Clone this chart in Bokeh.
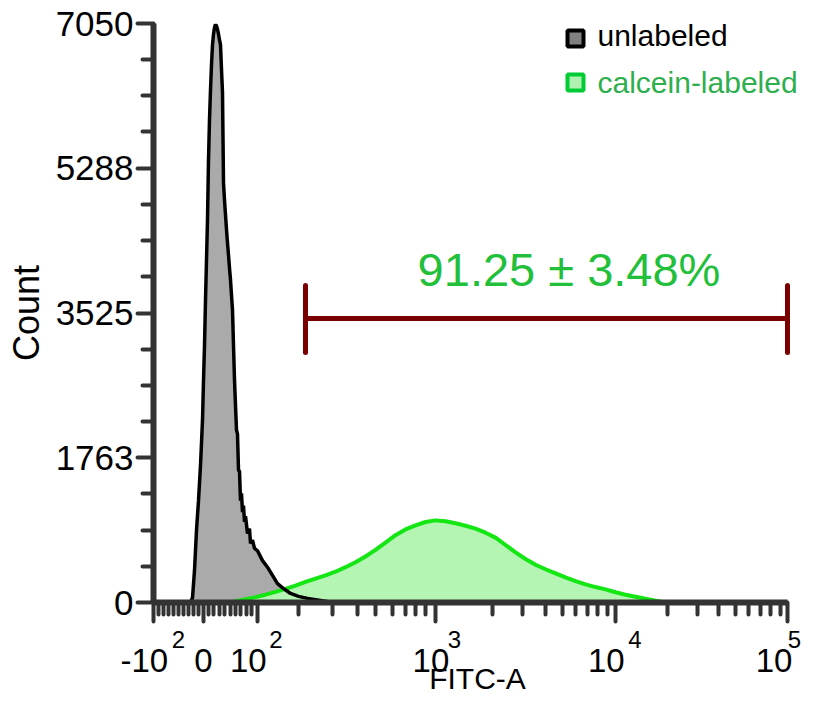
from bokeh.plotting import figure
from bokeh.models import FixedTicker, Label, Range1d, LinearAxis
from bokeh.embed import file_html
from bokeh.resources import INLINE

FONT = "Liberation Sans"

# ---- data (x in logicle display units: -10^2 -> 0, 10^5 -> 634) ----
x_major_ticks = [0, 50, 104, 282, 462, 634]
x_major_bases = ["-10", "0", "10", "10", "10", "10"]
x_major_exps = ["2", "", "2", "3", "4", "5"]
x_minor_ticks = [5, 10, 15, 20, 25, 30, 35, 40, 45,
                 55, 60, 66, 71, 77, 82, 87, 93, 98,
                 145, 179, 204, 222, 239, 252, 262, 272,
                 339, 369, 392, 409, 422, 434, 444, 454,
                 514, 544, 565, 582, 595, 607, 617, 627]

y_major_ticks = [0, 1763, 3525, 5288, 7050]
y_minor_ticks = [441, 881, 1322, 2204, 2644, 3084, 3966, 4406, 4847,
                 5729, 6169, 6609]

unl_x = [37, 39, 41, 43, 45, 47, 49, 50, 51, 52, 53, 54, 55, 56, 57, 58, 59,
         60, 61, 62, 63, 64, 65, 66, 67, 68, 69, 70, 71, 72, 73, 74, 75, 76,
         77, 78, 79, 80, 81, 82, 83, 84, 85, 86, 87, 88, 89, 90, 91, 92, 94,
         96, 97, 99, 101, 104, 109, 114, 119, 124, 130, 137, 145, 154, 167,
         180]
unl_count = [0, 60, 390, 880, 1240, 1670, 2220, 2700, 3130, 3680, 4170, 4660,
             5390, 5880, 6240, 6550, 6790, 6920, 7000, 7040, 7020, 6980, 6920,
             6850, 6790, 6490, 6210, 5110, 4900, 4720, 4540, 4380, 4230, 4070,
             3930, 3740, 3560, 3130, 2710, 2400, 2100, 2050, 1610, 1600, 1240,
             1330, 1100, 1180, 980, 1050, 840, 900, 720, 760, 660, 630, 510,
             430, 330, 230, 170, 110, 75, 50, 25, 0]

lab_x = [80, 92, 102, 112, 122, 132, 142, 152, 162, 172, 182, 192, 202, 212,
         222, 232, 242, 252, 262, 272, 282, 292, 302, 312, 322, 332, 342, 352,
         362, 372, 382, 392, 402, 412, 422, 432, 442, 452, 462, 472, 482, 492,
         502, 512]
lab_count = [10, 40, 65, 95, 130, 165, 205, 250, 290, 330, 375, 430, 490, 560,
             640, 730, 820, 890, 940, 980, 1000, 990, 965, 935, 900, 850, 790,
             700, 610, 530, 460, 405, 355, 305, 260, 220, 188, 160, 125, 95, 70,
             45, 22, 0]

gate_left, gate_right, gate_y = 152, 634, 3458
gate_cap_lo, gate_cap_hi = 3044, 3860
gate_text = "91.25 \u00b1 3.48%"

legend_labels = ["unlabeled", "calcein-labeled"]

AX = "#333333"

p = figure(frame_width=648, frame_height=579, output_backend="svg",
           toolbar_location=None,
           x_range=Range1d(0, 648), y_range=Range1d(0, 7050),
           min_border_left=153, min_border_right=0, min_border_top=23,
           min_border_bottom=99)
p.outline_line_color = None
p.grid.visible = False
p.background_fill_color = "white"
p.border_fill_color = "white"

# unlabeled (gray fill + black line)
p.varea(x=unl_x, y1=0, y2=unl_count, fill_color="#aaaaaa")
# calcein-labeled (light green fill + green line)
p.varea(x=lab_x, y1=0, y2=lab_count, fill_color="#b4f5b4")
p.line(lab_x, lab_count, line_color="#14e614", line_width=4)
p.line(unl_x, unl_count, line_color="black", line_width=3.5)

# gate bracket
p.segment(x0=[gate_left, gate_left, gate_right], y0=[gate_y, gate_cap_lo, gate_cap_lo],
          x1=[gate_right, gate_left, gate_right], y1=[gate_y, gate_cap_hi, gate_cap_hi],
          line_color="#7a0000", line_width=5, line_cap="round")
p.add_layout(Label(x=415.5, y=4055, text=gate_text,
                   text_align="center", text_baseline="middle",
                   text_font=FONT, text_font_size="47px", text_color="#22c03a"))

# legend
p.scatter(x=[422, 422], y=[6867, 6332], marker="square", size=16,
          fill_color=["#808080", "#b0f0b0"], line_color=["black", "#00cc33"],
          line_width=4)
for lbl, yy, col in zip(legend_labels, [6900, 6332], ["black", "#2eaf4e"]):
    p.add_layout(Label(x=444, y=yy, text=lbl, text_align="left",
                       text_baseline="middle", text_font=FONT,
                       text_font_size="30px", text_color=col))

# axes
for ax in (p.xaxis[0], p.yaxis[0]):
    ax.axis_line_width = 6
    ax.axis_line_color = AX
    ax.major_tick_line_width = 4
    ax.major_tick_line_color = AX
    ax.major_tick_line_cap = "round"
    ax.minor_tick_line_width = 4
    ax.minor_tick_line_color = AX
    ax.minor_tick_line_cap = "round"
    ax.major_tick_in = 0
    ax.minor_tick_in = 0
    ax.major_label_text_font = FONT
    ax.major_label_text_color = "black"
    ax.axis_label_text_font = FONT
    ax.axis_label_text_font_style = "normal"
    ax.axis_label_text_color = "black"

xa = p.xaxis[0]
xa.bounds = (0, 634)
xa.ticker = FixedTicker(ticks=x_major_ticks, minor_ticks=x_minor_ticks)
pads = [2, 0, 2, 1, 2, 1]
xa.major_label_overrides = {t: b + "\u00a0" * n for t, b, n in
                            zip(x_major_ticks, x_major_bases, pads)}
xa.major_tick_out = 19
xa.minor_tick_out = 12
xa.major_label_text_font_size = "33px"
xa.major_label_standoff = 20

# exponents of the x tick labels + axis title, on a second (line-less) axis
sup_offsets = [25, 0, 18.5, 19, 19.5, 7]
sup_pos = [t + o for t, o, e in zip(x_major_ticks, sup_offsets, x_major_exps) if e]
sup_txt = [e for e in x_major_exps if e]
xb = LinearAxis(ticker=FixedTicker(ticks=sup_pos, minor_ticks=[]),
                bounds=(0, 634),
                major_label_overrides={t: e for t, e in zip(sup_pos, sup_txt)},
                axis_line_color=None, major_tick_line_color=None,
                minor_tick_line_color=None, major_tick_in=0, major_tick_out=0,
                minor_tick_in=0, minor_tick_out=0,
                major_label_standoff=-51, major_label_text_font=FONT,
                major_label_text_font_size="24px", major_label_text_color="black",
                axis_label="FITC-A", axis_label_text_font=FONT,
                axis_label_text_font_size="30px", axis_label_text_font_style="normal",
                axis_label_text_color="black", axis_label_standoff=11)
p.add_layout(xb, "below")

ya = p.yaxis[0]
ya.bounds = (0, 7050)
ya.ticker = FixedTicker(ticks=y_major_ticks, minor_ticks=y_minor_ticks)
ya.major_label_overrides = {t: str(t) for t in y_major_ticks}
ya.major_tick_out = 16
ya.minor_tick_out = 11
ya.major_label_text_font_size = "35px"
ya.major_label_standoff = 4
ya.axis_label = "Count"
ya.axis_label_text_font_size = "36px"
ya.axis_label_standoff = 6

open("out.html", "w").write(file_html(p, INLINE))
